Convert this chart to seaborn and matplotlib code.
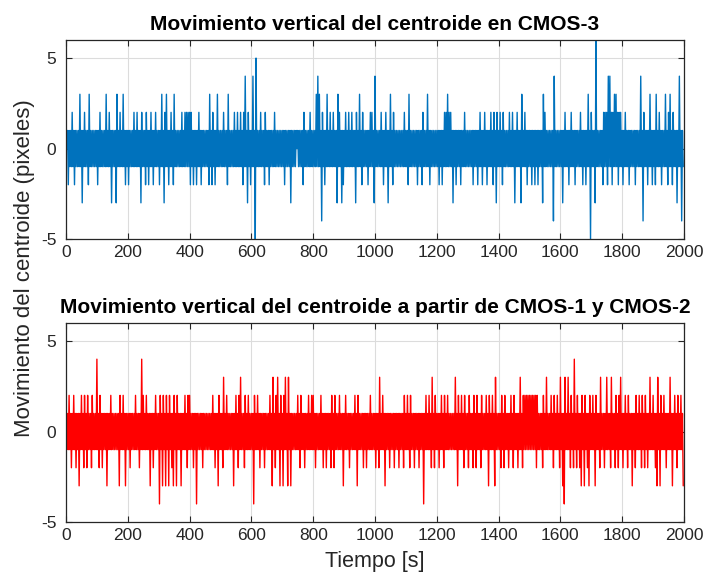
import numpy as np
import pandas as pd
import matplotlib
matplotlib.use("Agg")
import matplotlib.pyplot as plt
import seaborn as sns

# ---- data (one sample every 2.5 s; 40 samples per 100 s row) ----
tiempo_s = np.arange(0, 2000, 2.5)

cmos3 = [
    1,0, 1,-2, 1,-1, 1,-1, 2,-1, 1,-2, 1,-1, 1,-1, 1,-1, 3,-1, 1,-3, 1,-1, 2,-1, 1,-1, 1,-2, 3,-1, 1,-1, 1,-1, 1,-1, 1,-1,
    1,-2, 1,-1, 2,-1, 1,-1, 1,-1, 1,-1, 3,-1, 1,-1, 2,-1, 1,-3, 1,-1, 1,-1, 1,-3, 3,-1, 1,-1, 2,-1, 1,-1, 3,-1, 1,-2, 1,-1,
    1,-2, 1,-1, 1,-1, 1,-1, 2,-1, 1,-1, 2,-1, 1,-1, 1,-3, 2,-1, 1,-1, 1,-2, 2,-1, 1,-2, 1,-1, 2,-1, 1,-2, 1,-1, 2,-1, 1,-1,
    1,-2, 1,-1, 3,-1, 1,-3, 2,-1, 3,-1, 1,-2, 1,-1, 2,-1, 1,-2, 3,-1, 1,-1, 1,-1, 1,-1, 1,-1, 2,-1, 1,-1, 2,-1, 2,-1, 2,-1,
    2,-2, 2,-1, 1,-2, 1,-1, 1,-2, 1,-1, 2,-1, 1,-2, 1,-1, 1,-1, 1,-1, 1,-1, 1,-2, 3,-1, 1,-2, 2,-1, 1,-2, 1,-1, 3,-1, 1,-1,
    1,-1, 1,-1, 2,-1, 1,-1, 1,-2, 3,-1, 1,-1, 1,-1, 1,-1, 2,-1, 1,-1, 2,-1, 1,-1, 2,-1, 1,-2, 2,-1, 4,-1, 1,-3, 2,-1, 1,-2,
    1,-1, 4,-1, 1,-5, 5,-1, 1,-1, 1,-1, 2,-1, 1,-1, 1,-2, 2,-1, 1,-1, 1,-2, 1,-1, 1,-1, 1,-1, 2,-1, 1,-1, 1,-1, 1,-1, 1,-1,
    1,-1, 1,-2, 1,-1, 1,-1, 1,-1, 1,-3, 1,-1, 1,-1, 1,-1, 1,0, 1,-1, 1,-1, 1,-1, 1,-2, 2,-1, 1,-1, 1,-1, 1,-1, 2,-1, 1,-1,
    1,-1, 1,-1, 3,-1, 4,-1, 3,-1, 1,-4, 2,-1, 1,-2, 1,-1, 3,-1, 1,-1, 2,-1, 1,-1, 2,-1, 1,-1, 1,-3, 3,-1, 2,-1, 1,-3, 1,-2,
    1,-1, 2,-1, 1,-1, 2,-1, 1,-1, 2,-1, 1,-1, 1,-3, 2,-1, 1,-1, 3,-1, 1,-2, 2,-1, 1,-1, 1,-1, 1,-2, 1,-1, 2,-1, 2,-1, 1,-3,
    4,-1, 1,-1, 1,-1, 1,-1, 2,-1, 1,-2, 1,-1, 2,-1, 1,-3, 1,-1, 3,-1, 1,-2, 2,-1, 1,-1, 1,-1, 1,-1, 1,-1, 1,-1, 1,-1, 2,-1,
    1,-1, 1,-2, 3,-1, 1,-1, 1,-1, 1,-1, 1,-1, 1,-2, 1,-1, 1,-1, 1,-2, 2,-1, 1,-1, 1,-1, 3,-1, 1,-2, 1,-1, 1,-1, 1,-1, 1,-1,
    1,-1, 1,-2, 1,-1, 1,-2, 1,-1, 2,-1, 2,-1, 3,-1, 2,-1, 2,-1, 1,-3, 1,-1, 1,-2, 1,-1, 1,-1, 1,-2, 1,-1, 1,-1, 2,-1, 1,-1,
    1,-1, 1,-1, 1,-1, 1,-2, 1,-1, 1,-1, 1,-2, 1,-1, 2,-1, 1,-2, 1,-1, 2,-1, 1,-2, 1,-1, 1,-1, 2,-1, 1,-2, 2,-1, 1,-3, 2,-1,
    1,-1, 2,-1, 1,-2, 2,-1, 1,-1, 1,-1, 1,-1, 2,-1, 1,-1, 2,-1, 1,-3, 1,-1, 2,-1, 1,-1, 1,-3, 3,-1, 1,-1, 2,-1, 1,-2, 1,-1,
    1,-1, 1,-2, 1,-1, 1,-2, 1,-1, 1,-2, 1,-1, 1,-1, 1,-3, 3,-1, 2,-1, 1,-1, 1,-1, 1,-1, 1,-1, 1,-4, 4,-1, 1,-1, 1,-1, 1,-1,
    1,-1, 1,-3, 1,-1, 2,-1, 1,-1, 1,-2, 1,-1, 2,-1, 1,-1, 1,-2, 1,-1, 1,-1, 1,-1, 2,-1, 1,-2, 1,-1, 1,-2, 1,-1, 3,-1, 1,-5,
    2,-1, 1,-1, 1,-3, 6,-1, 1,-1, 1,-1, 1,-1, 1,-2, 2,-1, 2,-1, 2,-2, 4,-1, 4,-1, 2,-2, 2,-1, 3,-1, 3,-1, 2,-2, 2,-1, 2,-1,
    1,-2, 1,-1, 2,-1, 1,-1, 1,-2, 1,-1, 1,-1, 1,-1, 1,-2, 1,-1, 1,-1, 1,-1, 4,-1, 1,-4, 2,-1, 1,-1, 1,-2, 1,-1, 3,-1, 1,-2,
    1,-1, 1,-2, 3,-1, 1,-1, 2,-1, 1,-2, 1,-1, 1,-1, 3,-1, 1,-2, 2,-1, 3,-1, 1,-2, 2,-1, 1,-1, 1,-3, 1,-1, 4,-1, 1,-4, 1,-1,
]

cmos12 = [
    0,-1, 1,-1, 2,-1, 1,-2, 1,-1, 2,-1, 1,-2, 1,-1, 1,-3, 1,-1, 2,-1, 1,-2, 2,-1, 1,-2, 2,-1, 1,-1, 1,-2, 2,-1, 1,-1, 1,-1,
    4,-1, 1,-2, 2,-1, 1,-2, 1,-1, 1,-1, 1,-3, 1,-1, 1,-1, 2,-1, 1,-1, 1,-1, 1,-1, 1,-1, 1,-3, 2,-1, 1,-1, 2,-1, 1,-3, 1,-1,
    1,-1, 1,-2, 1,-1, 1,-1, 1,-1, 2,-1, 1,-1, 1,-2, 1,-1, 4,-1, 2,-1, 1,-1, 2,-1, 1,-1, 1,-3, 1,-1, 1,-2, 1,-1, 2,-1, 1,-1,
    1,-4, 2,-1, 1,-3, 2,-1, 1,-3, 2,-1, 1,-3, 2,-1, 1,-2, 1,-3, 2,-1, 1,-3, 2,-1, 1,-1, 1,-3, 1,-1, 1,-1, 2,-1, 1,-2, 2,-1,
    2,-1, 1,-1, 1,-2, 1,-1, 1,-4, 1,-1, 1,-1, 1,-1, 1,-2, 1,-1, 1,-1, 1,-1, 1,-1, 1,-1, 1,-1, 2,-1, 1,-2, 1,-1, 1,-3, 2,-1,
    1,-1, 1,-2, 3,-1, 1,-1, 2,-1, 1,-1, 1,-1, 1,-1, 1,-3, 1,-1, 2,-1, 1,-2, 2,-1, 3,-1, 1,-1, 1,-2, 2,-1, 1,-1, 2,-1, 1,-1,
    1,-1, 1,-4, 2,-1, 1,-1, 2,-1, 1,-2, 1,-1, 1,-1, 1,-2, 1,-1, 1,-1, 1,-1, 2,-1, 1,-3, 3,-1, 1,-2, 2,-1, 3,-1, 1,-3, 2,-1,
    1,-3, 2,-1, 3,-1, 1,-3, 3,-1, 1,-3, 1,-1, 1,-1, 1,-1, 1,-1, 2,-1, 1,-2, 2,-1, 1,-1, 1,-2, 1,-1, 1,-1, 2,-1, 1,-1, 2,-1,
    2,-1, 1,-2, 1,-1, 1,-1, 1,-1, 2,-1, 1,-2, 1,-1, 1,-2, 1,-1, 1,-1, 1,-2, 2,-1, 1,-2, 2,-1, 1,-1, 1,-1, 2,-1, 1,-1, 1,-3,
    1,-1, 2,-1, 1,-1, 1,-2, 1,-1, 1,-1, 1,-1, 2,-1, 1,-3, 2,-1, 1,-1, 1,-1, 1,-2, 1,-1, 1,-2, 1,-1, 1,-1, 2,-1, 1,-1, 1,-1,
    1,-2, 1,-1, 1,-2, 3,-1, 1,-1, 2,-1, 1,-3, 1,-1, 1,-1, 1,-2, 1,-1, 1,-1, 1,-2, 1,-1, 1,-1, 1,-2, 1,-1, 1,-1, 1,-2, 2,-1,
    1,-1, 2,-1, 1,-2, 2,-1, 1,-1, 1,-2, 1,-1, 1,-1, 1,-2, 1,-1, 1,-1, 1,-4, 1,-1, 2,-1, 1,-1, 2,-1, 1,-2, 3,-1, 1,-2, 2,-1,
    1,-1, 1,-2, 1,-1, 2,-1, 1,-2, 2,-1, 1,-1, 2,-1, 1,-1, 1,-1, 1,-1, 1,-1, 3,-1, 1,-3, 2,-1, 1,-1, 2,-1, 1,-2, 2,-1, 1,-1,
    1,-2, 2,-1, 1,-1, 1,-2, 2,-1, 1,-2, 2,-1, 1,-1, 1,-2, 2,-1, 1,-1, 1,-1, 2,-1, 1,-3, 2,-1, 1,-1, 2,-1, 1,-3, 3,-1, 1,-1,
    1,-1, 1,-2, 2,-1, 1,-2, 2,-1, 1,-1, 1,-2, 1,-1, 2,-1, 1,-2, 2,-1, 1,-1, 1,-2, 1,-1, 3,-1, 1,-2, 2,-1, 2,-1, 2,-1, 2,-1,
    2,-1, 2,-1, 2,-1, 2,-1, 2,-2, 2,-1, 1,-1, 1,-1, 1,-2, 2,-1, 1,-1, 3,-1, 1,-1, 1,-1, 2,-1, 1,-2, 2,-1, 1,-1, 2,-1, 1,-2,
    3,-1, 1,-3, 1,-4, 3,-1, 1,-1, 3,-1, 1,-2, 2,-1, 1,-2, 4,-1, 1,-2, 2,-1, 1,-2, 1,-3, 2,-1, 1,-3, 2,-1, 1,-2, 1,-3, 2,-1,
    1,-1, 2,-1, 1,-3, 2,-1, 1,-1, 1,-2, 3,-1, 1,-1, 1,-2, 1,-1, 3,-1, 1,-1, 1,-2, 3,-1, 1,-1, 1,-2, 2,-1, 1,-2, 2,-1, 3,-1,
    1,-2, 1,-1, 2,-1, 1,-2, 2,-1, 1,-1, 1,-3, 1,-1, 1,-2, 2,-1, 1,-1, 2,-1, 1,-2, 2,-1, 1,-2, 2,-1, 1,-2, 1,-1, 3,-1, 1,-1,
    2,-1, 1,-2, 1,-3, 3,-1, 1,-3, 2,-1, 1,-1, 2,-1, 1,-2, 1,-1, 1,-1, 3,-1, 1,-3, 1,-1, 2,-1, 1,-2, 2,-1, 1,-1, 2,-1, 1,-3,
]

x_ticks = [0, 200, 400, 600, 800, 1000, 1200, 1400, 1600, 1800, 2000]
y_ticks = [-5, 0, 5]

titulo_1 = "Movimiento vertical del centroide en CMOS-3"
titulo_2 = "Movimiento vertical del centroide a partir de CMOS-1 y CMOS-2"
etiqueta_y = "Movimiento del centroide (pixeles)"
etiqueta_x = "Tiempo [s]"

df1 = pd.DataFrame({"t": tiempo_s, "v": cmos3})
df2 = pd.DataFrame({"t": tiempo_s, "v": cmos12})

# ---- style ----
sns.set_theme(style="white")
plt.rcParams["font.family"] = ["Liberation Sans", "DejaVu Sans"]
plt.rcParams["axes.unicode_minus"] = False

W, H = 707, 586
fig = plt.figure(figsize=(W / 100, H / 100), dpi=100)
ax1 = fig.add_axes([66 / W, 1 - 239 / H, 618 / W, 199 / H])
ax2 = fig.add_axes([66 / W, 1 - 522 / H, 618 / W, 199 / H])

txt = "#262626"
for ax, df, col, ttl in [(ax1, df1, "#0072BD", titulo_1), (ax2, df2, "#FF0000", titulo_2)]:
    sns.lineplot(data=df, x="t", y="v", ax=ax, color=col, linewidth=1.0,
                 estimator=None, legend=False)
    ax.set_xlim(0, 2000)
    ax.set_ylim(-5, 6)
    ax.set_xticks(x_ticks)
    ax.set_yticks(y_ticks)
    ax.set_xlabel("")
    ax.set_ylabel("")
    ax.grid(True, color="#dcdcdc", linewidth=0.8)
    ax.set_axisbelow(True)
    ax.tick_params(direction="in", length=4, width=0.8, top=True, right=True,
                   bottom=True, left=True, labelsize=12.5, colors=txt)
    ax.tick_params(axis="x", pad=4)
    ax.tick_params(axis="y", pad=7)
    for s in ax.spines.values():
        s.set_visible(True)
        s.set_color(txt)
        s.set_linewidth(0.9)
    ax.set_title(ttl, fontsize=15, fontweight="bold", color="black", pad=7)

ax2.set_xlabel(etiqueta_x, fontsize=15.5, color=txt, labelpad=6)
fig.text(0.034, 1 - 268 / H, etiqueta_y, rotation=90, ha="center", va="center",
         fontsize=16, color=txt)

fig.savefig("out.png", dpi=100)
